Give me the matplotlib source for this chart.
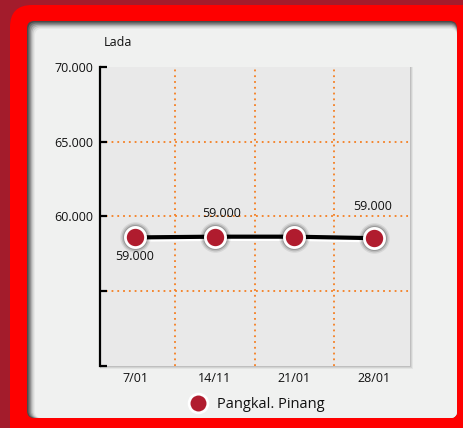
import matplotlib
matplotlib.use('Agg')
import matplotlib.pyplot as plt
import matplotlib.patheffects as pe
from matplotlib.patches import FancyBboxPatch, Rectangle
from matplotlib.lines import Line2D

# data
dates = ['7/01', '14/11', '21/01', '28/01']
harga = [58600, 58650, 58650, 58550]
show_label = [True, True, False, True]
series_name = 'Pangkal. Pinang'
title = 'Lada'
yticks = [50000, 55000, 60000, 65000, 70000]
ytick_labels = ['', '', '60.000', '65.000', '70.000']
ygrid = [55000, 60000, 65000]

plt.rcParams['font.family'] = ['Open Sans', 'DejaVu Sans']

W, H = 464, 428
fig = plt.figure(figsize=(W / 100, H / 100), dpi=100)
fig.patch.set_facecolor('#a31c2c')

# background frame drawn in pixel coords
bg = fig.add_axes([0, 0, 1, 1])
bg.set_xlim(0, W)
bg.set_ylim(H, 0)
bg.axis('off')
bg.add_patch(FancyBboxPatch((10, 5), 500, 480, boxstyle='round,pad=0,rounding_size=22',
                            fc='#fe0000', ec='none'))
# inner panel with a soft shadow on top / left
shades = ['#4a4a4a', '#6c6c6c', '#8e8e8e', '#b0b0b0', '#cfd0cf', '#e4e5e4', '#f0f1f0']
for i, c in enumerate(shades):
    bg.add_patch(FancyBboxPatch((27 + i * 1.3, 21 + i * 1.3), 430 - i * 1.3, 397 - i * 1.3,
                                boxstyle='round,pad=0,rounding_size=7', fc=c, ec='none'))
# shadow behind plot area
for i, a in enumerate([0.05, 0.07, 0.09]):
    bg.add_patch(Rectangle((100, 67), 310 + 3 - i, 299 + 3 - i, fc='black', alpha=a, ec='none'))

ax = fig.add_axes([100 / W, 1 - 366 / H, 310 / W, 299 / H])
ax.set_facecolor('#e9e9e9')
x = list(range(len(dates)))
ax.set_xlim(-0.44, 3.45)
ax.set_ylim(50000, 70000)

for s in ['top', 'right', 'bottom']:
    ax.spines[s].set_visible(False)
ax.spines['left'].set_linewidth(1.6)
ax.spines['left'].set_color('black')

ax.set_yticks(yticks)
ax.set_yticklabels(ytick_labels)
ax.tick_params(axis='y', direction='in', length=5, width=1.6, pad=5,
               labelsize=9, labelcolor='#111111')
ax.set_xticks(x)
ax.set_xticklabels(dates)
ax.tick_params(axis='x', length=0, pad=4, labelsize=9, labelcolor='#111111')

# dotted orange grid between categories and at inner y ticks
grid_style = dict(color='#f57f22', linestyle=(0, (1, 2.2)), linewidth=1.3, zorder=1)
for gx in [0.5, 1.5, 2.5]:
    ax.axvline(gx, **grid_style)
for gy in ygrid:
    ax.axhline(gy, **grid_style)

ax.plot(x, harga, color='black', lw=3, zorder=3, solid_capstyle='round',
        path_effects=[pe.SimpleLineShadow(offset=(0, -1.6), shadow_color='white', alpha=1),
                      pe.Normal()])
# soft glow behind markers
for sz, a in [(22, 0.08), (20, 0.12), (18, 0.18)]:
    ax.plot(x, harga, 'o', ms=sz, color='black', alpha=a, mec='none', zorder=4)
ax.plot(x, harga, 'o', ms=14.5, mfc='#b01c2e', mec='white', mew=2, zorder=5)

offsets = [(0, -14), (5, 17), (0, 17), (-1, 23)]
for xi, v, show, off in zip(x, harga, show_label, offsets):
    if show:
        ax.annotate('{:d}.000'.format(round(v / 1000)), (xi, v), xytext=off,
                    textcoords='offset points', ha='center', va='center',
                    fontsize=9, color='#111111', zorder=6)

fig.text(104 / W, 1 - 42 / H, title, fontsize=9, color='#111111', va='center', ha='left')

handle = Line2D([], [], marker='o', ls='none', ms=13.5, mfc='#b01c2e', mec='white', mew=2)
fig.legend([handle], [series_name], loc='center left',
           bbox_to_anchor=(183 / W, 1 - 405 / H), frameon=False, fontsize=10.5,
           handletextpad=0.3, borderpad=0, borderaxespad=0, labelcolor='#111111')

fig.savefig('out.png', dpi=100, facecolor=fig.get_facecolor())
